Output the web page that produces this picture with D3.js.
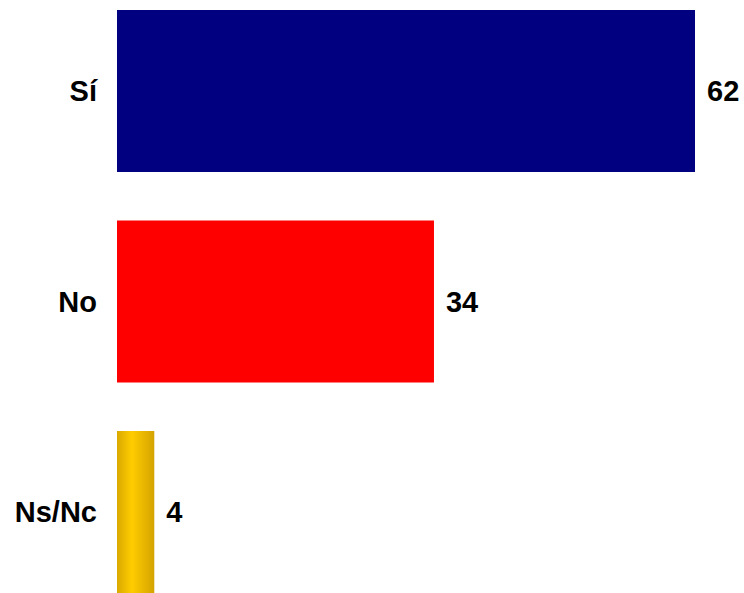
<!DOCTYPE html>
<html><head><meta charset="utf-8">
<script src="https://cdn.jsdelivr.net/npm/d3@7"></script>
<style>body{margin:0;background:#fff}svg{display:block}</style>
</head><body>
<script>
const categories = ["Sí", "No", "Ns/Nc"];
const values = [62, 34, 4];
const colors = ["#000080", "#FF0000", "url(#gold)"];

const W = 744, H = 593;
const svg = d3.select("body").append("svg").attr("width", W).attr("height", H);
const defs = svg.append("defs");
const g = defs.append("linearGradient").attr("id", "gold").attr("x1", "0%").attr("x2", "100%").attr("y1", "0%").attr("y2", "0%");
g.append("stop").attr("offset", "0%").attr("stop-color", "#D9A900");
g.append("stop").attr("offset", "40%").attr("stop-color", "#FFCC00");
g.append("stop").attr("offset", "100%").attr("stop-color", "#D4A300");

const x = d3.scaleLinear().domain([0, 62]).range([117, 695]);
const y = d3.scaleBand().domain(categories).range([10, 593]).paddingInner(0.2304).paddingOuter(0);

svg.selectAll("rect.bar").data(categories).join("rect")
  .attr("class", "bar")
  .attr("x", x(0))
  .attr("y", d => y(d))
  .attr("width", (d, i) => x(values[i]) - x(0))
  .attr("height", y.bandwidth())
  .attr("fill", (d, i) => colors[i]);

svg.selectAll("text.val").data(categories).join("text")
  .attr("class", "val")
  .attr("x", (d, i) => x(values[i]) + 12)
  .attr("y", d => y(d) + y.bandwidth() / 2)
  .attr("dy", "0.36em")
  .attr("font-family", "Liberation Sans, Arial, sans-serif")
  .attr("font-weight", "bold")
  .attr("font-size", 29)
  .attr("fill", "#000")
  .text((d, i) => values[i]);

svg.selectAll("text.cat").data(categories).join("text")
  .attr("class", "cat")
  .attr("x", 97)
  .attr("y", d => y(d) + y.bandwidth() / 2)
  .attr("dy", "0.36em")
  .attr("text-anchor", "end")
  .attr("font-family", "Liberation Sans, Arial, sans-serif")
  .attr("font-weight", "bold")
  .attr("font-size", 29)
  .attr("fill", "#000")
  .text(d => d);
</script>
</body></html>
